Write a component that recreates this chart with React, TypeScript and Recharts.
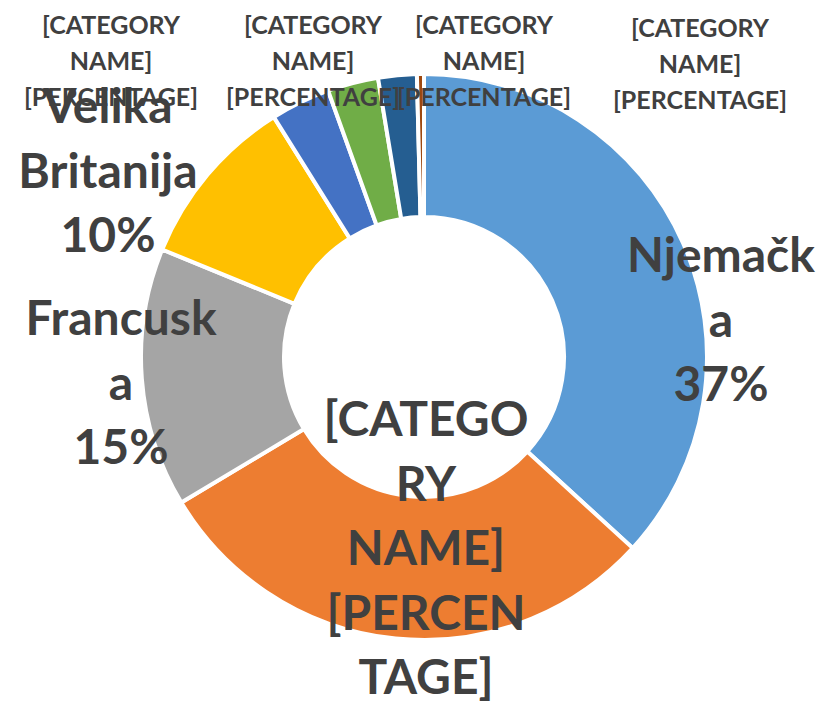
import { PieChart, Pie, Cell } from 'recharts';

// slices clockwise from 12 o'clock
const categories = [
    'Njemačka',
    '[CATEGORY NAME]',
    'Francuska',
    'Velika Britanija',
    '[CATEGORY NAME]',
    '[CATEGORY NAME]',
    '[CATEGORY NAME]',
    '[CATEGORY NAME]',
];
const shares = [36.8, 29.6, 14.8, 9.9, 3.4, 2.9, 2.2, 0.4];
const colors = ['#5B9BD5', '#ED7D31', '#A5A5A5', '#FFC000', '#4472C4', '#70AD47', '#255E91', '#9E480E'];

// label text as Excel wrapped it; {p} gets the computed percentage
const labelLines = [
    ['Njemačk', 'a', '{p}'],
    ['[CATEGO', 'RY', 'NAME]', '[PERCEN', 'TAGE]'],
    ['Francusk', 'a', '{p}'],
    ['Velika', 'Britanija', '{p}'],
    ['[CATEGORY', 'NAME]', '[PERCENTAGE]'],
    ['[CATEGORY', 'NAME]', '[PERCENTAGE]'],
    ['[CATEGORY', 'NAME]', '[PERCENTAGE]'],
    ['[CATEGORY', 'NAME]', '[PERCENTAGE]'],
];

// manual label placement (center x, first baseline y, big/small)
const labelLayout = [
    { x: 721, y: 272, big: true },
    { x: 426, y: 436, big: true },
    { x: 121, y: 335, big: true },
    { x: 108, y: 123, big: true },
    { x: 111, y: 34, big: false },
    { x: 313, y: 34, big: false },
    { x: 484, y: 34, big: false },
    { x: 700, y: 37, big: false },
];

const data = categories.map((name, i) => ({ name, value: shares[i] }));

const renderLabel = (props: any) => {
    const { index, percent } = props;
    const pos = labelLayout[index];
    const size = pos.big ? 48 : 25;
    const lh = pos.big ? 64.5 : 36;
    const pct = Math.round(percent * 100) + '%';
    return (
        <text
            key={'lbl' + index}
            x={pos.x}
            y={pos.y}
            textAnchor="middle"
            fontFamily="Lato, 'Open Sans', sans-serif"
            fontWeight={700}
            fontSize={size}
            fill="#404040"
        >
            {labelLines[index].map((l, i) => (
                <tspan key={i} x={pos.x} y={pos.y + i * lh}>
                    {l.replace('{p}', pct)}
                </tspan>
            ))}
        </text>
    );
};

const App = () => {
    return (
        <div style={{ position: 'fixed', top: 0, left: 0, width: 823, height: 701, background: '#fff' }}>
            <PieChart width={823} height={701} margin={{ top: 0, right: 0, bottom: 0, left: 0 }}>
                <Pie
                    data={data}
                    dataKey="value"
                    nameKey="name"
                    cx={424}
                    cy={357}
                    innerRadius={140}
                    outerRadius={283}
                    startAngle={90}
                    endAngle={-270}
                    stroke="#ffffff"
                    strokeWidth={4}
                    label={renderLabel}
                    labelLine={false}
                    isAnimationActive={false}
                >
                    {data.map((d, i) => (
                        <Cell key={d.name + i} fill={colors[i]} />
                    ))}
                </Pie>
            </PieChart>
        </div>
    );
};

export default App;
